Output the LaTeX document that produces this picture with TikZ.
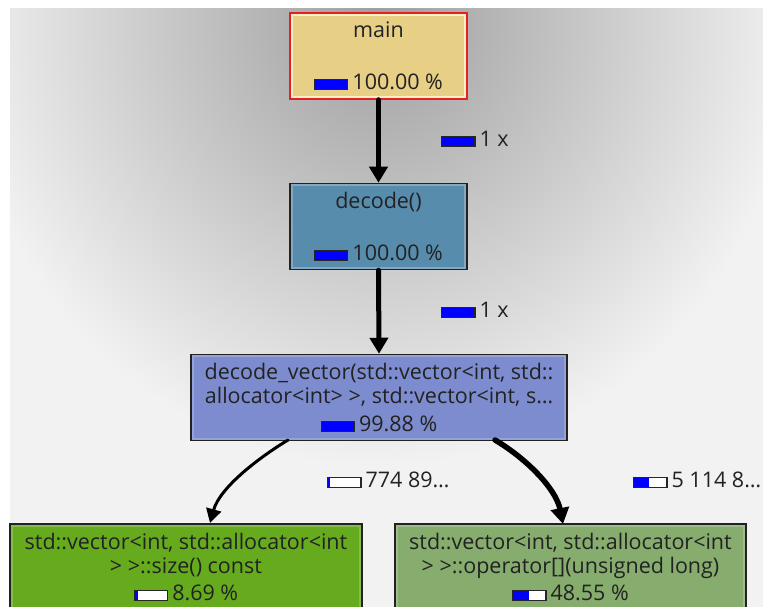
\documentclass[tikz,border=0pt]{standalone}
\usepackage{fontspec}
\setmainfont{Open Sans}
\usetikzlibrary{arrows.meta}

% node fills and outlines
\definecolor{mainfill}{RGB}{232,207,134}
\definecolor{mainrim}{RGB}{250,238,200}
\definecolor{mainline}{RGB}{228,32,32}
\definecolor{decfill}{RGB}{88,140,172}
\definecolor{vecfill}{RGB}{124,140,206}
\definecolor{sizefill}{RGB}{102,170,30}
\definecolor{opfill}{RGB}{134,172,110}
\definecolor{boxline}{RGB}{34,34,34}
\definecolor{textc}{RGB}{34,34,34}
\definecolor{bgbase}{RGB}{242,242,242}
\definecolor{bgcore}{RGB}{158,158,158}

% cost bar: #1 = filled part in pt (full = 32)
\newcommand{\pbar}[1]{%
  \begingroup\setlength{\fboxsep}{0pt}\setlength{\fboxrule}{1.2pt}%
  \fcolorbox{black!85}{white}{\makebox[32pt][l]{\textcolor{blue}{\rule{#1pt}{9pt}}}}%
  \endgroup\hspace{4pt}}

\tikzset{
  fnbox/.style={draw=boxline, line width=1.5pt, minimum height=86pt,
    align=center, inner sep=0pt, text=textc,
    font=\fontsize{21.5}{24}\selectfont},
  rim/.style={line width=2pt},
  call/.style={draw=black, line cap=round},
  elabel/.style={anchor=west, inner sep=0pt, text=textc,
    font=\fontsize{21.5}{24}\selectfont}
}

\begin{document}
\begin{tikzpicture}[x=1pt,y=1pt]
  \useasboundingbox (0,0) rectangle (763,607);
  \clip (0,0) rectangle (763,607);

  % shaded backdrop
  \fill[bgbase] (10,0) rectangle (763,598);
  \begin{scope}
    \clip (10,0) rectangle (763,598);
    \shade[inner color=bgcore, outer color=bgbase] (378,590) ellipse [x radius=420, y radius=450];
  \end{scope}

  % functions
  \node[fnbox, draw=mainline, fill=mainfill, minimum width=177pt] (main) at (378.5,551)
    {main\\[28pt]\pbar{32}100.00 \%};
  \node[fnbox, fill=decfill, minimum width=177pt] (decode) at (378.5,380.5)
    {decode()\\[28pt]\pbar{32}100.00 \%};
  \node[fnbox, fill=vecfill, minimum width=376pt] (vec) at (379,209.5)
    {decode\_vector(std::vector<int, std::\\allocator<int> >, std::vector<int, s…\\[4pt]\pbar{32}99.88 \%};
  \node[fnbox, fill=sizefill, minimum width=352pt] (size) at (186,40)
    {std::vector<int, std::allocator<int\\> >::size() const\\[3pt]\pbar{3}8.69 \%};
  \node[fnbox, fill=opfill, minimum width=351pt] (op) at (570.5,40)
    {std::vector<int, std::allocator<int\\> >::operator[](unsigned long)\\[3pt]\pbar{15.5}48.55 \%};

  % bevelled inner rims
  \draw[rim, mainrim] ([shift={(2.5pt,-2.5pt)}]main.north west) rectangle ([shift={(-2.5pt,2.5pt)}]main.south east);
  \draw[rim, decfill!75!white] ([shift={(2.5pt,-2.5pt)}]decode.north west) rectangle ([shift={(-2.5pt,2.5pt)}]decode.south east);
  \draw[rim, vecfill!80!white] ([shift={(2.5pt,-2.5pt)}]vec.north west) rectangle ([shift={(-2.5pt,2.5pt)}]vec.south east);
  \draw[rim, sizefill!80!white] ([shift={(2.5pt,-2.5pt)}]size.north west) rectangle ([shift={(-2.5pt,2.5pt)}]size.south east);
  \draw[rim, opfill!80!white] ([shift={(2.5pt,-2.5pt)}]op.north west) rectangle ([shift={(-2.5pt,2.5pt)}]op.south east);

  % calls
  \draw[call, line width=5pt, -{Triangle[width=18pt,length=16pt]}] (main.south) -- (decode.north);
  \draw[call, line width=5pt, -{Triangle[width=18pt,length=16pt]}] (decode.south) -- (vec.north);

  \coordinate (vsl) at (288,167);
  \coordinate (vsr) at (495,167);
  \coordinate (sizetop) at (210,84);
  \coordinate (optop) at (563,83);
  \draw[call, line width=3pt, -{Triangle[width=15pt,length=14pt]}]
    (vsl) .. controls (260,150) and (220,120) .. (sizetop);
  \draw[call, line width=5.5pt, -{Triangle[width=18pt,length=16pt]}]
    (vsr) .. controls (527,148) and (556,118) .. (optop);

  % call counts
  \node[elabel] (c1) at (441,468) {\pbar{32}1 x};
  \node[elabel] (c2) at (441,297) {\pbar{32}1 x};
  \node[elabel] (c3) at (327,127) {\pbar{2}774 89…};
  \node[elabel] (c4) at (633,127) {\pbar{15}5 114 8…};
\end{tikzpicture}
\end{document}
